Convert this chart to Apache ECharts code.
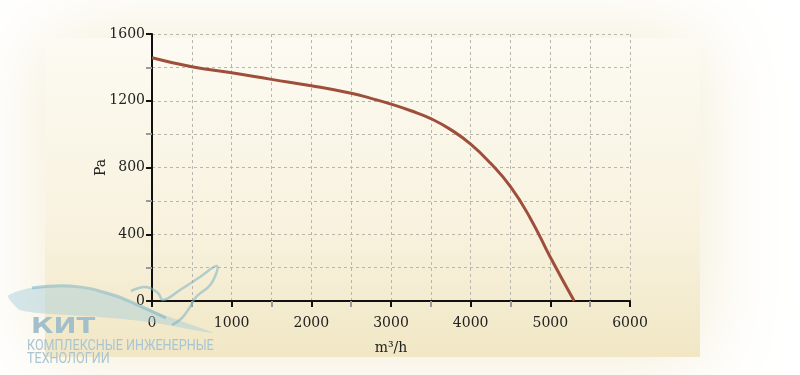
<!DOCTYPE html>
<html>
<head>
<meta charset="utf-8">
<script src="https://cdn.jsdelivr.net/npm/echarts@6/dist/echarts.min.js"></script>
<style>html,body{margin:0;padding:0;background:#fff}#c{width:800px;height:375px}</style>
</head>
<body>
<div id="c"></div>
<script>
// Airflow (m³/h) and pressure (Pa)
const flow     = [0,    500,  1000, 1500, 2000, 2500, 2750, 3000, 3250, 3500, 3750, 4000, 4250, 4500, 4750, 5000, 5300];
const pressure = [1458, 1404, 1368, 1328, 1290, 1245, 1214, 1180, 1140, 1093, 1027, 940,  825,  685,  495,  262,  0];
const xName = 'm³/h';
const yName = 'Pa';
const logoTitle = 'КИТ';
const logoLine1 = 'КОМПЛЕКСНЫЕ ИНЖЕНЕРНЫЕ';
const logoLine2 = 'ТЕХНОЛОГИИ';

const chart = echarts.init(document.getElementById('c'), null, {renderer: 'canvas'});
const serif = 'DejaVu Serif';
const gridLine = () => ({show: true, lineStyle: {color: '#b9b6ae', type: [3, 3], width: 1}});
const logoStroke = 'rgba(120,178,196,0.55)';
chart.setOption({
  backgroundColor: '#ffffff',
  animation: false,
  graphic: [
    {type: 'rect', z: -100, silent: true,
     shape: {x: 45, y: 38, width: 655, height: 319},
     style: {fill: {type: 'linear', x: 0, y: 0, x2: 0, y2: 1, colorStops: [
       {offset: 0, color: '#fcfaf2'}, {offset: 0.6, color: '#f8f2de'}, {offset: 1, color: '#f1e7c5'}]},
       shadowBlur: 80, shadowColor: '#f3ead0'}},
    {type: 'polygon', z: 100, silent: true,
     shape: {points: [[8,296],[30,288],[70,287],[110,295],[150,310],[213,333],[150,322],[100,317],[50,314],[20,310]], smooth: 0.2},
     style: {fill: 'rgba(165,203,218,0.45)'}},
    {type: 'polyline', z: 101, silent: true,
     shape: {points: [[32,288],[70,286],[110,294],[140,306],[166,318]], smooth: 0.4},
     style: {stroke: logoStroke, lineWidth: 3, fill: null}},
    {type: 'polyline', z: 101, silent: true,
     shape: {points: [[131,291],[146,287],[158,293],[163,300],[180,290],[200,277],[217,266],[211,284],[196,297],[190,307],[182,318],[172,325]], smooth: 0.4},
     style: {stroke: logoStroke, lineWidth: 2.5, fill: null}},
    {type: 'text', z: 100, silent: true, x: 31, y: 316, scaleX: 1.25,
     style: {text: logoTitle, fill: '#a2bfcc', font: 'bold 22px "DejaVu Sans"'}},
    {type: 'text', z: 100, silent: true, x: 27, y: 339, scaleX: 0.9,
     style: {text: logoLine1, fill: '#a9c5d1', font: '14px Roboto'}},
    {type: 'text', z: 100, silent: true, x: 27, y: 352, scaleX: 0.9,
     style: {text: logoLine2, fill: '#a9c5d1', font: '14px Roboto'}}
  ],
  grid: {left: 152, right: 170, top: 34, bottom: 74},
  xAxis: {
    type: 'value', min: 0, max: 6000, interval: 1000,
    name: xName, nameLocation: 'middle', nameGap: 40, nameMoveOverlap: false,
    nameTextStyle: {fontFamily: serif, fontSize: 14, color: '#222', verticalAlign: 'top'},
    axisLine: {show: true, lineStyle: {color: '#111', width: 2}},
    axisTick: {show: true, length: 6, lineStyle: {color: '#111', width: 2}},
    minorTick: {show: true, splitNumber: 2, length: 6, lineStyle: {color: '#999', width: 2}},
    axisLabel: {fontFamily: serif, fontSize: 14, color: '#222', margin: 15, formatter: v => String(v)},
    splitLine: gridLine(),
    minorSplitLine: gridLine()
  },
  yAxis: {
    type: 'value', min: 0, max: 1600, interval: 400,
    name: yName, nameLocation: 'middle', nameGap: 44, nameRotate: 90, nameMoveOverlap: false,
    nameTextStyle: {fontFamily: serif, fontSize: 14, color: '#222'},
    axisLine: {show: true, lineStyle: {color: '#111', width: 2}},
    axisTick: {show: true, length: 6, lineStyle: {color: '#111', width: 2}},
    minorTick: {show: true, splitNumber: 2, length: 6, lineStyle: {color: '#999', width: 2}},
    axisLabel: {fontFamily: serif, fontSize: 14, color: '#222', margin: 7, formatter: v => String(v)},
    splitLine: gridLine(),
    minorSplitLine: gridLine()
  },
  series: [{
    type: 'line', smooth: 0.5, showSymbol: false, z: 5,
    data: flow.map((f, i) => [f, pressure[i]]),
    lineStyle: {color: '#9e4f3c', width: 3}
  }]
});
</script>
</body>
</html>
